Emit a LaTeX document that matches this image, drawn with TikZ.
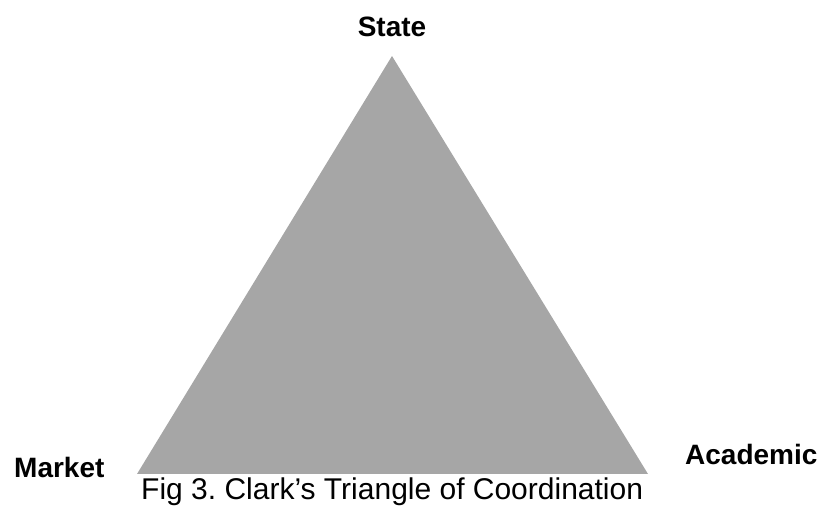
\documentclass[tikz,border=0pt]{standalone}
\usepackage{fontspec}
\setmainfont{Liberation Sans}
\definecolor{trifill}{HTML}{A6A6A6}
\frenchspacing
\begin{document}
\begin{tikzpicture}[x=1pt,y=-1pt,
  vertexlabel/.style={font=\fontsize{28}{30}\selectfont\bfseries, inner sep=0pt},
  captiontext/.style={font=\fontsize{30}{32}\selectfont, inner sep=0pt}]
  \useasboundingbox (0,0) rectangle (825,510);
  % the coordination triangle
  \coordinate (apex) at (392,56);
  \coordinate (left) at (137,474);
  \coordinate (right) at (648,474);
  \fill[trifill] (apex) -- (left) -- (right) -- cycle;
  % corner labels
  \node[vertexlabel, anchor=base] (state) at (392,37) {State};
  \node[vertexlabel, anchor=base west] (market) at (14,478) {Market};
  \node[vertexlabel, anchor=base west] (academic) at (685,465) {Academic};
  % caption
  \node[captiontext, anchor=base west] (caption) at (141,500) {Fig 3. Clark’s Triangle of Coordination};
\end{tikzpicture}
\end{document}
